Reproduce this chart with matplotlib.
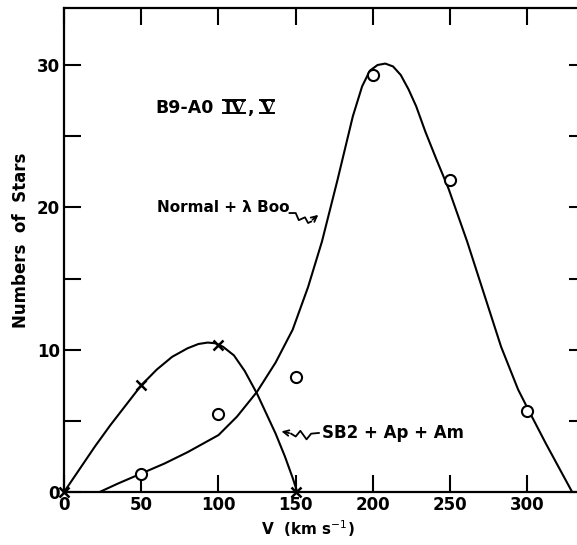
import numpy as np
import matplotlib.pyplot as plt
from matplotlib.transforms import IdentityTransform

plt.rcParams['font.family'] = ['DejaVu Sans']

# measured points
v_normal = [50, 100, 150, 200, 250, 300]
n_normal = [1.3, 5.5, 8.1, 29.3, 21.9, 5.7]
v_sb2 = [0, 50, 100, 150]
n_sb2 = [0, 7.5, 10.3, 0]

# hand-drawn smooth curves
curve_normal_v = [23, 35, 50, 65, 80, 90, 100, 112, 125, 137, 148, 158, 167, 177,
                  187, 193, 198, 203, 208, 213, 218, 223, 228, 234, 241, 249, 261,
                  272, 283, 294, 301, 312, 321, 329]
curve_normal_n = [0, 0.6, 1.3, 2.0, 2.8, 3.4, 4.0, 5.3, 7.05, 9.1, 11.4, 14.4, 17.6,
                  21.9, 26.4, 28.5, 29.6, 30.0, 30.1, 29.9, 29.3, 28.3, 27.1, 25.3,
                  23.4, 21.3, 17.6, 13.9, 10.2, 7.2, 5.7, 3.4, 1.6, 0]
curve_sb2_v = [0, 10, 20, 30, 40, 50, 60, 70, 80, 87, 93, 98, 103, 110, 117, 125,
               131, 137, 143, 148, 151]
curve_sb2_n = [0, 1.6, 3.2, 4.7, 6.1, 7.5, 8.6, 9.5, 10.1, 10.4, 10.5, 10.45, 10.2,
               9.6, 8.5, 6.9, 5.5, 4.1, 2.5, 1.0, 0]

x_ticks = [0, 50, 100, 150, 200, 250, 300]
y_ticks = [0, 10, 20, 30]

fig = plt.figure(figsize=(5.77, 5.45), dpi=100)
ax = fig.add_axes([0.111, 0.0972, 0.9047, 0.888])

ax.plot(curve_normal_v, curve_normal_n, color='black', lw=1.5)
ax.plot(curve_sb2_v, curve_sb2_n, color='black', lw=1.5)
ax.plot(v_normal, n_normal, 'o', ms=8, mfc='white', mec='black', mew=1.5, zorder=3)
ax.plot(v_sb2, n_sb2, 'x', ms=7, color='black', mew=1.8, zorder=3, clip_on=False)

ax.set_xlim(0, 338)
ax.set_ylim(0, 34)
ax.set_xticks(x_ticks)
ax.set_yticks(y_ticks)
ax.set_yticks([5, 15, 25], minor=True)
ax.tick_params(which='both', direction='in', top=True, right=True,
               length=12, width=1.5, labelsize=12, pad=3)
for lab in ax.get_xticklabels() + ax.get_yticklabels():
    lab.set_fontweight('bold')
for s in ax.spines.values():
    s.set_linewidth(1.6)

ax.set_xlabel('V  (km s$^{-1}$)', fontsize=11, fontweight='bold', labelpad=3, x=0.467)
ax.set_ylabel('Numbers  of  Stars', fontsize=12, fontweight='bold', labelpad=5,
              y=0.52)

# group label
t1 = ax.text(59, 27, 'B9-A0', fontsize=12.5, fontweight='bold', va='center')
iv = ax.annotate('IV', xy=(1, 0), xycoords=t1, xytext=(7, 0),
                 textcoords='offset points', fontsize=12.5, fontweight='bold',
                 family='DejaVu Serif', va='bottom')
cm = ax.annotate(',', xy=(1, 0), xycoords=iv, xytext=(1.5, 0),
                 textcoords='offset points', fontsize=12.5, fontweight='bold', va='bottom')
vv = ax.annotate('V', xy=(1, 0), xycoords=cm, xytext=(5, 0),
                 textcoords='offset points', fontsize=12.5, fontweight='bold',
                 family='DejaVu Serif', va='bottom')

ax.text(60, 20.0, 'Normal + λ Boo', fontsize=11, fontweight='bold', va='center')
ax.plot([146, 150, 152, 156, 158, 160], [19.6, 19.6, 19.1, 19.3, 18.9, 19.0],
        color='black', lw=1.3)
ax.annotate('', xy=(166, 19.6), xytext=(159.5, 19.0),
            arrowprops=dict(arrowstyle='->', lw=1.3, color='black'))

ax.text(167, 4.15, 'SB2 + Ap + Am', fontsize=12, fontweight='bold', va='center')
ax.plot([165, 160, 157, 153, 150, 147], [4.15, 4.1, 3.7, 4.3, 3.9, 4.1],
        color='black', lw=1.3)
ax.annotate('', xy=(139, 4.3), xytext=(147.5, 4.1),
            arrowprops=dict(arrowstyle='->', lw=1.3, color='black'))

# bars over and under the roman numerals
fig.canvas.draw()
for t in (iv, vv):
    bb = t.get_window_extent()
    fs = t.get_fontsize() * 100 / 72
    base = bb.y0 + 0.236 * fs
    top = base + 0.73 * fs
    for yy in (base, top):
        fig.add_artist(plt.Line2D([bb.x0, bb.x1], [yy, yy], color='black',
                                  lw=1.4, transform=IdentityTransform()))

fig.savefig('out.png', dpi=100)
